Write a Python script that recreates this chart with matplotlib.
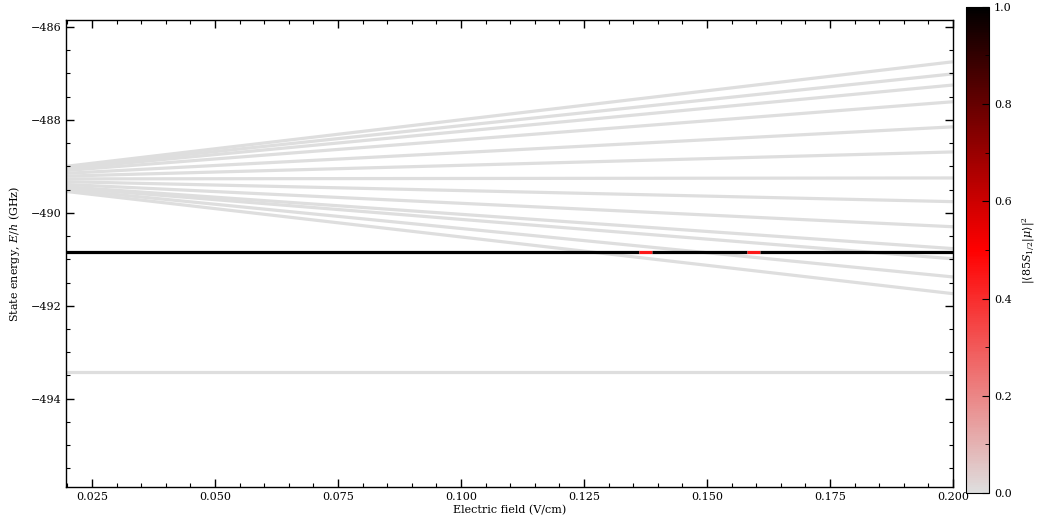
import numpy as np
import matplotlib
matplotlib.use("Agg")
import matplotlib.pyplot as plt
from matplotlib.collections import LineCollection
from matplotlib.colors import LinearSegmentedColormap, Normalize
from matplotlib.ticker import MultipleLocator

plt.rcParams["font.family"] = ["DejaVu Serif"]
plt.rcParams["mathtext.fontset"] = "dejavuserif"
plt.rcParams["font.size"] = 8

# Electric field range (V/cm) at which the manifold energies are given
field = [0.0197, 0.2]

# Stark manifold states: energies (GHz) at the two field values above
manifold_start = [-489.00, -489.02, -489.05, -489.09, -489.15, -489.21, -489.27,
                  -489.33, -489.39, -489.44, -489.46, -489.50, -489.54]
manifold_end = [-486.75, -487.01, -487.25, -487.61, -488.15, -488.69, -489.25,
                -489.76, -490.30, -490.77, -490.99, -491.38, -491.74]

# Lower isolated state (GHz)
lower_state = [-493.43, -493.43]

# Target state: field breakpoints, energy, and overlap on each stretch
target_field = [0.0197, 0.1362, 0.1388, 0.1582, 0.1608, 0.2]
target_energy = [-490.84, -490.84, -490.84, -490.84, -490.84, -490.84]
target_overlap = [1.0, 0.45, 1.0, 0.45, 1.0]

cmap = LinearSegmentedColormap.from_list("grey_red_black", ["#dedede", "#ff0000", "#000000"])
norm = Normalize(0.0, 1.0)
grey = cmap(norm(0.0))

fig = plt.figure(figsize=(10.38, 5.25), dpi=100)
ax = fig.add_axes([0.0636, 0.0724, 0.8545, 0.8896])

for e0, e1 in zip(manifold_start, manifold_end):
    ax.plot(field, [e0, e1], color=grey, lw=2.3, solid_capstyle="butt", zorder=1)
ax.plot(field, lower_state, color=grey, lw=2.3, solid_capstyle="butt", zorder=1)

pts = np.column_stack([target_field, target_energy])
segs = np.stack([pts[:-1], pts[1:]], axis=1)
lc = LineCollection(segs, cmap=cmap, norm=norm, linewidths=2.3, zorder=3)
lc.set_array(np.array(target_overlap))
ax.add_collection(lc)

ax.set_xlim(0.0197, 0.2)
ax.set_ylim(-495.9, -485.85)
ax.xaxis.set_major_locator(MultipleLocator(0.025))
ax.xaxis.set_minor_locator(MultipleLocator(0.005))
ax.yaxis.set_major_locator(MultipleLocator(2))
ax.yaxis.set_minor_locator(MultipleLocator(0.5))
ax.xaxis.set_major_formatter(matplotlib.ticker.FormatStrFormatter("%.3f"))
ax.tick_params(which="both", direction="in", top=True, right=True, labelsize=8)
ax.tick_params(which="major", length=6, width=1)
ax.tick_params(which="minor", length=3, width=0.8)
for s in ax.spines.values():
    s.set_linewidth(1.0)

ax.set_xlabel("Electric field (V/cm)", fontsize=8, labelpad=2)
ax.set_ylabel("State energy, $E/h$ (GHz)", fontsize=8, labelpad=6)

cax = fig.add_axes([0.9306, 0.061, 0.0222, 0.926])
sm = matplotlib.cm.ScalarMappable(norm=norm, cmap=cmap)
cb = fig.colorbar(sm, cax=cax)
cb.set_ticks([0.0, 0.2, 0.4, 0.6, 0.8, 1.0])
cb.ax.yaxis.set_minor_locator(MultipleLocator(0.1))
cb.ax.tick_params(which="both", direction="in", labelsize=8)
cb.ax.tick_params(which="major", length=5)
cb.ax.tick_params(which="minor", length=3)
cb.set_label(r"$|\langle 85S_{1/2}|\mu\rangle|^2$", fontsize=8, labelpad=6)

fig.savefig("out.png", dpi=100)
